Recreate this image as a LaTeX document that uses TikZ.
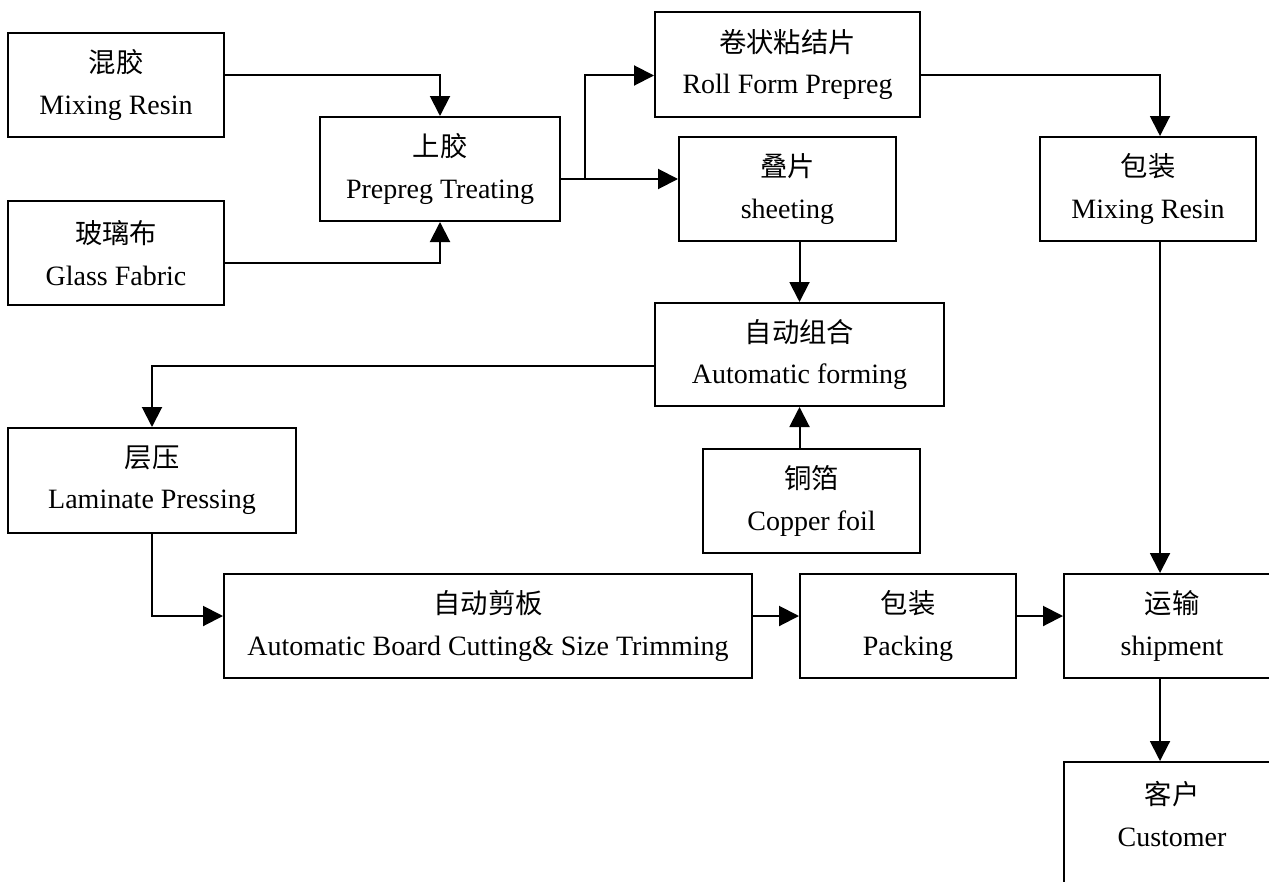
\documentclass[tikz,border=0pt]{standalone}
\usepackage{fontspec}
\setmainfont{Liberation Serif}
\newfontfamily\cjk{Noto Sans CJK SC}
\usetikzlibrary{arrows.meta,calc}
\begin{document}
\begin{tikzpicture}[x=0.75pt,y=-0.75pt,
  box/.style={draw,line width=1.5pt,inner sep=0pt,align=center,
    font=\fontsize{21}{31}\selectfont},
  wh/.style 2 args={minimum width=#1*0.75pt,minimum height=#2*0.75pt},
  arr/.style={line width=1.5pt,-{Triangle[length=15pt,width=15pt]}}]
\useasboundingbox (0,0) rectangle (1269,881);
\clip (0,0) rectangle (1269,881);
\fill[white] (0,0) rectangle (1269,881);
% boxes
\node[box,wh={216}{104}] (mix)   at (116,85)    {{\cjk\fontsize{20.5}{31}\selectfont 混胶}\\Mixing Resin};
\node[box,wh={216}{104}] (glass) at (116,253)   {{\cjk\fontsize{20.5}{31}\selectfont 玻璃布}\\Glass Fabric};
\node[box,wh={240}{104}] (prep)  at (440,169)   {{\cjk\fontsize{20.5}{31}\selectfont 上胶}\\Prepreg Treating};
\node[box,wh={265}{105}] (roll)  at (787.5,64.5){{\cjk\fontsize{20.5}{31}\selectfont 卷状粘结片}\\Roll Form Prepreg};
\node[box,wh={217}{104}] (sheet) at (787.5,189) {{\cjk\fontsize{20.5}{31}\selectfont 叠片}\\sheeting};
\node[box,wh={216}{104}] (packa) at (1148,189)  {{\cjk\fontsize{20.5}{31}\selectfont 包装}\\Mixing Resin};
\node[box,wh={289}{103}] (auto)  at (799.5,354.5){{\cjk\fontsize{20.5}{31}\selectfont 自动组合}\\Automatic forming};
\node[box,wh={217}{104}] (copper) at (811.5,501){{\cjk\fontsize{20.5}{31}\selectfont 铜箔}\\Copper foil};
\node[box,wh={288}{105}] (lam)   at (152,480.5) {{\cjk\fontsize{20.5}{31}\selectfont 层压}\\Laminate Pressing};
\node[box,wh={528}{104}] (cut)   at (488,626)   {{\cjk\fontsize{20.5}{31}\selectfont 自动剪板}\\Automatic Board Cutting\& Size Trimming};
\node[box,wh={216}{104}] (packb) at (908,626)   {{\cjk\fontsize{20.5}{31}\selectfont 包装}\\Packing};
\node[box,wh={216}{104}] (ship)  at (1172,626)  {{\cjk\fontsize{20.5}{31}\selectfont 运输}\\shipment};
\node[box,wh={216}{150},anchor=north] (cust) at (1172,761) {};
\node[box,draw=none] (custtxt) at (1172,814) {{\cjk\fontsize{20.5}{31}\selectfont 客户}\\Customer};
% helper coordinates
\coordinate (m1) at ($(mix.east)+(0,-10)$);
\coordinate (g1) at ($(glass.east)+(0,10)$);
\coordinate (p1) at ($(prep.east)+(0,10)$);
\coordinate (b1) at ($(p1)+(24,0)$);
\coordinate (r1) at ($(roll.west)+(0,11)$);
\coordinate (r2) at ($(roll.east)+(0,11)$);
\coordinate (px) at ($(packa.north)+(12,0)$);
\coordinate (py) at ($(packa.south)+(12,0)$);
\coordinate (a1) at ($(auto.west)+(0,11.5)$);
\coordinate (c1) at ($(cut.west)+(0,-10)$);
\coordinate (c2) at ($(cut.east)+(0,-10)$);
\coordinate (c3) at ($(packb.east)+(0,-10)$);
\coordinate (sx) at ($(ship.south)+(-12,0)$);
% connectors
\draw[arr] (m1) -| (prep.north);
\draw[arr] (g1) -| (prep.south);
\draw[arr] (p1) -- (p1 -| sheet.west);
\draw[arr] (b1) |- (r1);
\draw[arr] (r2) -| (px);
\draw[arr] (py) -- (py |- ship.north);
\draw[arr] (sheet.south -| auto.north) -- (auto.north);
\draw[arr] (auto.south |- copper.north) -- (auto.south);
\draw[arr] (a1) -| (lam.north);
\draw[arr] (lam.south) |- (c1);
\draw[arr] (c2) -- (c2 -| packb.west);
\draw[arr] (c3) -- (c3 -| ship.west);
\draw[arr] (sx) -- (sx |- cust.north);
\end{tikzpicture}
\end{document}
